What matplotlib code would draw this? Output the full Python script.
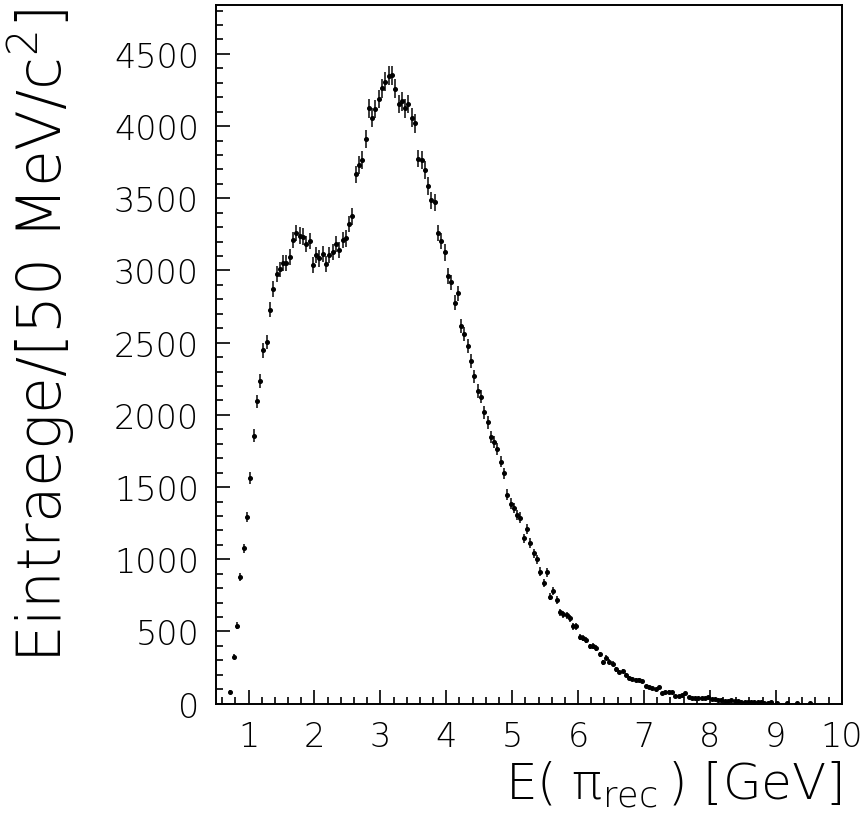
import numpy as np
import matplotlib
matplotlib.use("Agg")
import matplotlib.pyplot as plt
from matplotlib import font_manager as fm
from matplotlib.ticker import MultipleLocator

# 50 MeV bins from 0.5 to 10 GeV; counts listed from the bin centred at 0.725 GeV
BIN_WIDTH = 0.05
X_MIN, X_MAX = 0.5, 10.0
FIRST_CENTRE = 0.725

counts_read = [
    84, 324, 541, 878, 1075, 1292, 1562, 1857, 2093, 2235,
    2446, 2503, 2727, 2873, 2976, 3007, 3053, 3053, 3092, 3212,
    3258, 3242, 3235, 3182, 3203, 3041, 3106, 3083, 3115, 3044,
    3106, 3127, 3182, 3141, 3212, 3222, 3323, 3374, 3665, 3729,
    3764, 3909, 4122, 4059, 4117, 4188, 4262, 4306, 4348, 4352,
    4260, 4152, 4172, 4122, 4152, 4059, 4018, 3775, 3764, 3695,
    3586, 3487, 3471, 3261, 3203, 3125, 2963, 2917, 2778, 2841,
    2616, 2559, 2476, 2374, 2266, 2164, 2125, 2019, 1949, 1848,
    1811, 1765, 1677, 1594, 1446, 1386, 1356, 1307, 1289, 1144,
    1211, 1111, 1042, 999, 915, 837, 909, 742, 777, 719,
    632, 618, 611, 590, 535, 535, 461, 456, 438, 396,
    398, 384, 341, 287, 318, 291, 278, 237, 220, 224,
    200, 179, 172, 163, 165, 154, 121, 114, 105, 100,
    114, 73, 82, 84, 78, 50, 54, 59, 71, 43,
    40, 38, 38, 40, 40, 43, 33, 29, 26, 24,
    19, 19, 24, 17, 19, 12, 14, 10, 12, 10,
    8, 14, 6, 5, 10, 0, 3, 0, 0, 2,
    0, 0, 3, 0, 0, 0, 2, 0, 0, 0,
]

x_ticks = [1, 2, 3, 4, 5, 6, 7, 8, 9, 10]
y_ticks = [0, 500, 1000, 1500, 2000, 2500, 3000, 3500, 4000, 4500]
Y_MAX = 4840

x_label = "E( π$_{\\mathrm{rec}}$$\\,$) [GeV]"
y_label = "Eintraege/[50 MeV/c$^{2}$]"


def pick_thin_font():
    # prefer a wide family in a thin weight, like the ROOT vector font
    prefs = ["DejaVu Sans", "Open Sans", "Lato", "Roboto"]
    for name in prefs:
        for f in fm.fontManager.ttflist:
            if f.name != name or f.style != "normal":
                continue
            w = f.weight
            if isinstance(w, str):
                w = fm.weight_dict.get(w, 400)
            if 150 <= w <= 300:
                return name, int(w)
    return "Roboto", 300


FONT, WEIGHT = pick_thin_font()
plt.rcParams["font.family"] = [FONT, "DejaVu Sans"]
plt.rcParams["font.weight"] = WEIGHT
plt.rcParams["axes.labelweight"] = WEIGHT
plt.rcParams["mathtext.fontset"] = "custom"
plt.rcParams["mathtext.rm"] = f"{FONT}:weight={WEIGHT}"
plt.rcParams["mathtext.it"] = f"{FONT}:weight={WEIGHT}"

counts = np.array(counts_read, dtype=float)
centres = FIRST_CENTRE + BIN_WIDTH * np.arange(len(counts))
keep = counts > 0
errors = np.sqrt(counts)

fig = plt.figure(figsize=(8.66, 8.29), dpi=100)
ax = fig.add_axes([0.249, 0.150, 0.723, 0.843])

ax.errorbar(centres[keep], counts[keep], yerr=errors[keep],
            fmt="o", color="black", markersize=2.6, ecolor="#3a3a3a",
            elinewidth=1.4, capsize=0)

ax.set_xlim(X_MIN, X_MAX)
ax.set_ylim(0, Y_MAX)
ax.set_xticks(x_ticks)
ax.set_yticks(y_ticks)
ax.xaxis.set_minor_locator(MultipleLocator(0.2))
ax.yaxis.set_minor_locator(MultipleLocator(100))

ax.tick_params(axis="both", which="both", direction="in",
               top=False, right=False, width=1.2, color="black")
ax.tick_params(axis="both", which="major", length=10)
ax.tick_params(axis="both", which="minor", length=5)
ax.tick_params(axis="x", labelsize=24, pad=12)
ax.tick_params(axis="y", labelsize=24, pad=12)

for s in ax.spines.values():
    s.set_linewidth(1.4)

ax.set_xlabel(x_label, fontsize=36, loc="right")
ax.xaxis.set_label_coords(1.0, -0.079)
ax.set_ylabel(y_label, fontsize=43, loc="top")
ax.yaxis.set_label_coords(-0.222, 0.996)

fig.savefig("out.png", dpi=100)
